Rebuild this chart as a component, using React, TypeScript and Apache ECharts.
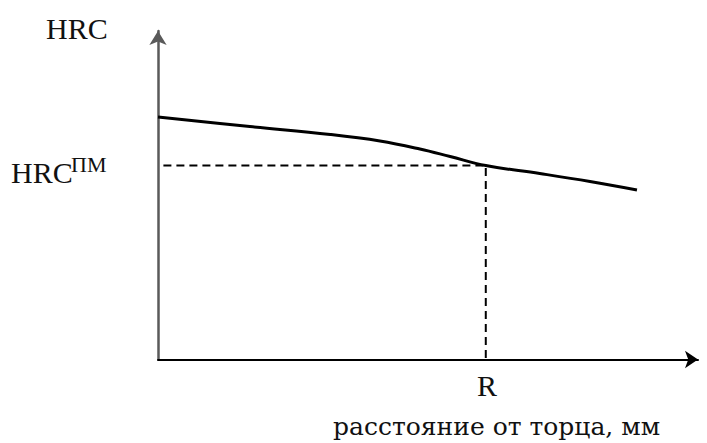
import React, { useEffect, useRef } from "react";
import * as echarts from "echarts";

// distance from quenched end (arbitrary units) and hardness HRC (arbitrary units)
const distance = [0, 17.0, 31.9, 41.1, 48.5, 54.1, 60.7, 70.7, 80.0, 88.7];
const hardness = [47.98, 46.1, 44.52, 43.23, 41.65, 40.17, 38.39, 36.8, 35.22, 33.54];
const R_VALUE = 60.7;
const HRC_PM = 38.39;
const X_MAX = 100;
const Y_MAX = 65;
const yAxisTitle = "HRC";
const xAxisTitle = "расстояние от торца, мм";
const rLabel = "R";
const hrcPmMain = "HRC";
const hrcPmSup = "ПМ";

export default function App() {
  const ref = useRef<HTMLDivElement>(null);
  useEffect(() => {
    if (!ref.current) return;
    const chart = echarts.init(ref.current, null, { renderer: "svg" });
    const curve = distance.map((d, i) => [d, hardness[i]]);
    const dashed = [
      [1, HRC_PM],
      [R_VALUE, HRC_PM],
      [R_VALUE, 0],
    ];
    const serif = "'Liberation Serif', 'Times New Roman', serif";
    chart.setOption({
      animation: false,
      backgroundColor: "#fff",
      grid: { left: 158, right: 9, top: 31, bottom: 83.5 },
      xAxis: {
        type: "value",
        min: 0,
        max: X_MAX,
        axisLine: {
          show: true,
          onZero: false,
          symbol: ["none", "arrow"],
          symbolSize: [13, 13],
          lineStyle: { color: "#000", width: 2 },
        },
        axisTick: { show: false },
        axisLabel: { show: false },
        splitLine: { show: false },
      },
      yAxis: {
        type: "value",
        min: 0,
        max: Y_MAX,
        axisLine: {
          show: true,
          onZero: false,
          symbol: ["none", "arrow"],
          symbolSize: [13, 14],
          lineStyle: { color: "#5a5a5a", width: 2.5 },
        },
        axisTick: { show: false },
        axisLabel: { show: false },
        splitLine: { show: false },
      },
      series: [
        {
          type: "line",
          data: dashed,
          showSymbol: false,
          silent: true,
          lineStyle: { color: "#000", width: 2, type: [8, 5] },
          z: 1,
        },
        {
          type: "line",
          data: curve,
          smooth: 0.4,
          showSymbol: false,
          silent: true,
          lineStyle: { color: "#000", width: 3 },
          z: 2,
        },
      ],
      graphic: [
        {
          type: "text",
          left: 46,
          top: 13,
          style: { text: yAxisTitle, font: `30px ${serif}`, fill: "#111" },
        },
        {
          type: "text",
          left: 11,
          top: 157,
          style: { text: hrcPmMain, font: `30px ${serif}`, fill: "#111" },
        },
        {
          type: "text",
          left: 71,
          top: 153,
          style: { text: hrcPmSup, font: `22px ${serif}`, fill: "#111" },
        },
        {
          type: "text",
          left: 477,
          top: 370,
          style: { text: rLabel, font: `30px ${serif}`, fill: "#111" },
        },
        {
          type: "text",
          left: 333,
          top: 414,
          style: { text: xAxisTitle, font: `25px 'DejaVu Serif', serif`, fill: "#111" },
        },
      ],
    });
    return () => chart.dispose();
  }, []);
  return (
    <div
      ref={ref}
      style={{ position: "fixed", left: 0, top: 0, width: 707, height: 443, background: "#fff" }}
    />
  );
}
